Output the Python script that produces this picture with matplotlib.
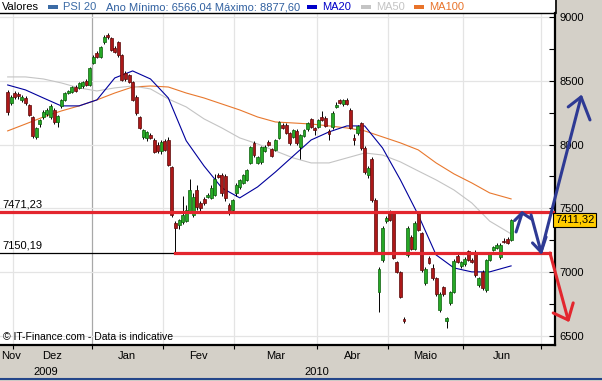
import matplotlib.pyplot as plt
import matplotlib.transforms as mtransforms
from matplotlib.patches import Rectangle
from matplotlib.lines import Line2D
from matplotlib.ticker import FuncFormatter

plt.rcParams['font.family'] = ['Liberation Sans', 'DejaVu Sans']

# PSI 20 daily candles, trading day 0 = 1 Dez 2009 (two Nov days before it)
first_day = -2
opens = [8412, 8327,
         8405, 8398, 8352, 8365, 8310, 8216, 8060, 8160, 8215, 8240, 8216, 8271, 8177, 8302, 8350, 8405, 8412, 8450, 8445, 8455, 8495, 8467,
         8640, 8718, 8687, 8800, 8862, 8835, 8757, 8805, 8702, 8560, 8545, 8490, 8373, 8216, 8060, 8050, 8075, 8036, 8000, 7950,
         8030, 8036, 7824, 7386, 7370, 7395, 7400, 7470, 7450, 7644, 7540, 7570, 7590, 7582, 7605, 7762, 7760, 7755, 7527, 7490,
         7620, 7670, 7700, 7725, 7855, 8012, 7856, 7864, 7950, 8020, 7966, 7958, 8052, 8150, 8154, 8090, 8060, 8107, 7982, 8068, 8122, 8200, 8130,
         8138, 8216, 8208, 8107, 8138, 8295, 8350, 8318, 8350, 8271, 8052, 8090, 8169, 7973, 7762, 7887, 7566, 6845, 7096, 7400,
         7472, 7464, 7080, 7002, 6633, 7135, 7276, 7182, 7464, 7307, 6915, 7112, 7030, 6955, 6704, 6884, 6620, 6759, 6845, 7127, 7045,
         7060, 7166, 7096, 7158, 6900, 7002, 6860, 7096, 7174, 7190, 7115, 7245, 7260, 7252]
highs = [8430, 8390,
         8420, 8415, 8390, 8380, 8320, 8225, 8140, 8200, 8270, 8290, 8320, 8285, 8235, 8360, 8410, 8430, 8460, 8465, 8490, 8500, 8510, 8610,
         8700, 8735, 8775, 8855, 8877.6, 8845, 8770, 8815, 8710, 8575, 8555, 8500, 8385, 8225, 8125, 8110, 8090, 8050, 8020, 8035,
         8045, 8060, 7830, 7400, 7420, 7600, 7530, 7730, 7620, 7680, 7560, 7590, 7620, 7680, 7770, 7780, 7775, 7770, 7545, 7575,
         7700, 7730, 7770, 7810, 7990, 8030, 7910, 7990, 7995, 8035, 7975, 8045, 8185, 8165, 8165, 8100, 8125, 8120, 8085, 8125, 8180, 8210, 8140,
         8200, 8260, 8225, 8120, 8260, 8330, 8360, 8360, 8365, 8285, 8085, 8155, 8180, 7985, 7830, 7900, 7580, 7040, 7360, 7440,
         7490, 7480, 7090, 7010, 6650, 7360, 7290, 7400, 7480, 7315, 7040, 7125, 7060, 6965, 6845, 6895, 6650, 6855, 7100, 7145, 7090,
         7115, 7175, 7110, 7170, 6965, 7015, 7105, 7160, 7205, 7225, 7225, 7270, 7275, 7420]
lows = [8230, 8310,
        8360, 8360, 8335, 8310, 8220, 8050, 8045, 8140, 8200, 8225, 8200, 8160, 8135, 8290, 8340, 8395, 8405, 8410, 8435, 8445, 8460, 8460,
        8630, 8680, 8680, 8790, 8830, 8730, 8715, 8690, 8495, 8500, 8480, 8340, 8235, 8120, 8040, 8030, 8040, 7930, 7935, 7925,
        7950, 7830, 7430, 7150.19, 7340, 7380, 7390, 7460, 7430, 7490, 7480, 7530, 7580, 7570, 7600, 7735, 7600, 7560, 7450, 7470,
        7600, 7655, 7690, 7715, 7845, 7905, 7845, 7850, 7940, 7990, 7900, 7950, 8040, 8120, 8080, 8000, 8050, 8000, 7890, 8060, 8110, 8130, 8075,
        8130, 8185, 8135, 8036, 8125, 8285, 8315, 8305, 8310, 8120, 8000, 8075, 7960, 7770, 7740, 7550, 7145, 6688, 7080, 7385,
        7400, 7100, 6990, 6795, 6600, 7120, 7170, 7170, 7320, 7005, 6900, 7060, 6940, 6815, 6690, 6815, 6566.04, 6745, 6835, 7070, 7035,
        7050, 7085, 7070, 6965, 6880, 6860, 6845, 7090, 7165, 7180, 7100, 7225, 7220, 7245]
closes = [8255, 8374,
          8373, 8378, 8376, 8326, 8232, 8067, 8130, 8190, 8255, 8270, 8302, 8177, 8224, 8350, 8405, 8420, 8450, 8420, 8482, 8490, 8467, 8600,
          8687, 8690, 8765, 8845, 8843, 8741, 8726, 8702, 8506, 8510, 8490, 8350, 8248, 8130, 8114, 8100, 8050, 7942, 7950, 8020,
          7960, 7840, 7448, 7346, 7410, 7450, 7487, 7644, 7590, 7510, 7500, 7545, 7605, 7660, 7730, 7745, 7620, 7580, 7472, 7566,
          7683, 7723, 7760, 7800, 7980, 7918, 7900, 7980, 7980, 7997, 7910, 8036, 8177, 8130, 8090, 8012, 8114, 8012, 8075, 8114, 8170, 8138, 8114,
          8193, 8193, 8146, 8083, 8248, 8310, 8326, 8350, 8318, 8130, 8036, 8145, 7973, 7785, 7817, 7566, 7160, 7025, 7346, 7425,
          7410, 7112, 7002, 6806, 6620, 7346, 7182, 7386, 7331, 7017, 7025, 7072, 6955, 6829, 6829, 6829, 6640, 6845, 7088, 7080, 7080,
          7104, 7096, 7080, 6978, 6955, 6876, 7096, 7150, 7197, 7213, 7213, 7237, 7228, 7411.32]

# moving averages at sample trading days
ma_days = [-2, 3, 8, 13, 18, 23, 28, 33, 38, 43, 48, 53, 58, 63, 68, 73, 78, 83, 88, 93, 98, 103, 108, 113, 118, 123, 128, 133, 139]
ma20 = [8467, 8428, 8365, 8303, 8303, 8350, 8522, 8577, 8514, 8365, 8030, 7832, 7660, 7582, 7668, 7785, 7911, 8036, 8099, 8146,
        8146, 7973, 7723, 7448, 7135, 7033, 7002, 7002, 7049]
ma50 = [8530, 8530, 8514, 8483, 8444, 8420, 8444, 8459, 8436, 8357, 8295, 8201, 8130, 8052, 8005, 7950, 7895, 7856, 7856, 7895,
        7934, 7918, 7864, 7793, 7723, 7644, 7542, 7400, 7300]
ma100 = [8107, 8161, 8216, 8263, 8303, 8350, 8404, 8451, 8459, 8451, 8404, 8365, 8318, 8271, 8216, 8177, 8169, 8161, 8146, 8130,
         8107, 8060, 8013, 7958, 7856, 7770, 7699, 7621, 7574]

month_names = ['Nov', 'Dez', 'Jan', 'Fev', 'Mar', 'Abr', 'Maio', 'Jun']
month_days = [22, 20, 20, 23, 20, 21, 22]   # trading days Dez .. Jun
year_low = 6566.04
year_high = 8877.60
resistance = 7471.23
support = 7150.19
last_close = closes[-1]

days = list(range(first_day, first_day + len(closes)))
bounds = [-0.5]
for n in month_days:
    bounds.append(bounds[-1] + n)

x0, x1 = -4.15, 151.3
fig = plt.figure(figsize=(6.02, 3.81), dpi=100, facecolor='#D4D0C8')
ax = fig.add_axes([0, 36 / 381, 555 / 602, 332 / 381])
fig.add_artist(Rectangle((0, 1 - 13 / 381), 555 / 602, 13 / 381, transform=fig.transFigure,
                         facecolor='white', edgecolor='none', zorder=-1))
ax.set_xlim(x0, x1)
ax.set_ylim(6429, 9031)

ax.spines['left'].set_visible(False)
ax.spines['top'].set_linewidth(1.0)
ax.spines['right'].set_linewidth(1.6)
ax.spines['bottom'].set_linewidth(1.6)

# grid
for b in bounds:
    ax.axvline(b, color='#A8A8A8' if b == bounds[1] else '#E4E4E4', lw=0.9, zorder=0)
for v in range(6500, 9001, 500):
    ax.axhline(v, color='#E4E4E4', lw=0.9, zorder=0)

# moving averages
ax.plot(ma_days, ma100, color='#E8782E', lw=0.8, zorder=2)
ax.plot(ma_days, ma50, color='#C4C4C4', lw=0.8, zorder=2)
ax.plot(ma_days, ma20, color='#00009C', lw=0.8, zorder=2)

# candles
ax.vlines(days, lows, highs, color='black', lw=0.7, zorder=3)
bottoms = [min(o, c) for o, c in zip(opens, closes)]
heights = [max(abs(c - o), 6) for o, c in zip(opens, closes)]
fills = ['#26A826' if c >= o else '#AC1818' for o, c in zip(opens, closes)]
edges = ['#0B5E0B' if c >= o else '#5A0808' for o, c in zip(opens, closes)]
ax.bar(days, heights, bottom=bottoms, width=0.82, color=fills, edgecolor=edges, linewidth=0.5, zorder=4)

# support / resistance
red = '#E3262E'
ax.axhline(resistance, color=red, lw=2.3, zorder=6)
ax.plot([x0, 45], [support, support], color='black', lw=0.9, zorder=5)
ax.plot([45, 149.9], [support, support], color=red, lw=2.3, zorder=6)
ax.annotate('7471,23', xy=(0, resistance), xycoords=('axes fraction', 'data'), xytext=(2, 1.5),
            textcoords='offset points', fontsize=8, va='bottom')
ax.annotate('7150,19', xy=(0, support), xycoords=('axes fraction', 'data'), xytext=(2, 1.5),
            textcoords='offset points', fontsize=8, va='bottom')

# hand drawn arrows
blue = '#2E3A94'
kw = dict(lw=2.2, clip_on=False, zorder=12, solid_capstyle='round', solid_joinstyle='round')
ax.plot([140.4, 142.1], [7315, 7464], color=blue, **kw)
ax.plot([140.0, 142.1, 144.8], [7405, 7464, 7415], color=blue, **kw)
ax.plot([144.6, 147.4], [7448, 7158], color=blue, **kw)
ax.plot([145.0, 147.4, 148.8], [7229, 7158, 7276], color=blue, **kw)
ax.plot([147.4, 158.6], [7158, 8373], color=blue, **kw)
ax.plot([155.0, 158.6, 161.1], [8295, 8373, 8193], color=blue, **kw)
ax.plot([149.9, 155.0], [7150, 6625], color=red, **kw)
ax.plot([150.8, 155.0, 156.4], [6680, 6625, 6759], color=red, **kw)

# right axis
ax.yaxis.tick_right()
ax.set_yticks(range(6500, 9001, 500))
ax.set_yticks(range(6500, 9001, 250), minor=True)
ax.yaxis.set_major_formatter(FuncFormatter(lambda v, p: '%d' % v))
ax.tick_params(axis='y', which='both', direction='in', length=4, width=0.8, labelsize=8, pad=3)

ax.text(1.0, last_close, ('%.2f' % last_close).replace('.', ','),
        transform=mtransforms.blended_transform_factory(ax.transAxes, ax.transData),
        ha='left', va='center', fontsize=8, zorder=11, clip_on=False,
        bbox=dict(boxstyle='square,pad=0.18', fc='#FFCC00', ec='black', lw=0.8))

# bottom axis
ax.set_xticks([b for b in bounds if x0 < b < x1])
ax.tick_params(axis='x', direction='out', length=3, width=0.8, labelbottom=False)
trans = mtransforms.blended_transform_factory(ax.transData, ax.transAxes)
edges_m = [x0] + bounds
for k, name in enumerate(month_names):
    if k == 0:
        ax.text(0.002, -0.034, name, transform=ax.transAxes, ha='left', va='center', fontsize=8)
        continue
    ax.text((edges_m[k] + edges_m[k + 1]) / 2, -0.034, name, transform=trans,
            ha='center', va='center', fontsize=8)
ax.text((x0 + bounds[1]) / 2, -0.08, '2009', transform=trans, ha='center', va='center', fontsize=8)
ax.text(84.7, -0.08, '2010', transform=trans, ha='center', va='center', fontsize=8)

ax.text(0.006, 0.024, '\u00a9 IT-Finance.com - Data is indicative', transform=ax.transAxes,
        fontsize=7.5, va='center')

# legend row
def fy(py):
    return 1 - py / 381

fig.text(2 / 602, fy(7), 'Valores', fontsize=8, va='center')
items = [(48, 'PSI 20', '#3B6BA5'), (307, 'MA20', '#0000C8'), (361, 'MA50', '#C4C4C4'), (414, 'MA100', '#E8732A')]
for px, label, col in items:
    fig.add_artist(Rectangle((px / 602, fy(9)), 10 / 602, 4 / 381, transform=fig.transFigure,
                             facecolor=col, edgecolor='none'))
    fig.text((px + 15) / 602, fy(7), label, fontsize=8, va='center', color=col)
fig.text(106 / 602, fy(7), 'Ano M\u00ednimo: %s M\u00e1ximo: %s' % (('%.2f' % year_low).replace('.', ','),
                                                              ('%.2f' % year_high).replace('.', ',')),
         fontsize=8, va='center', color='#2F5F9F')

fig.add_artist(Line2D([555.5 / 602, 555.5 / 602], [fy(13), 1], transform=fig.transFigure, color='black', lw=1.2))
fig.add_artist(Line2D([0, 1], [fy(378.5), fy(378.5)], transform=fig.transFigure, color='#24468A', lw=1.5))

fig.savefig('out.png', dpi=100, facecolor=fig.get_facecolor())
